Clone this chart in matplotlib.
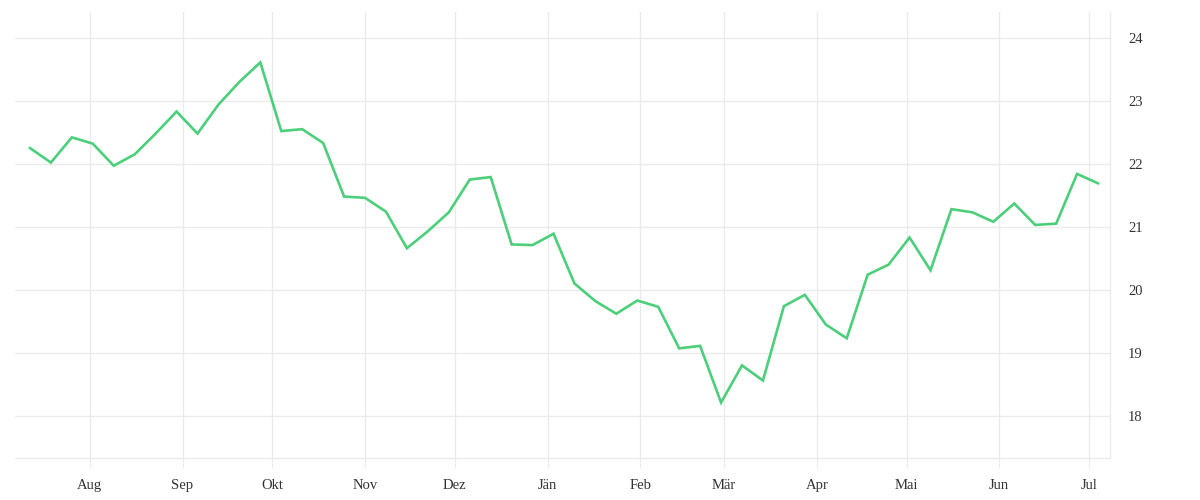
import datetime as dt
import matplotlib
matplotlib.use("Agg")
import matplotlib.pyplot as plt
import matplotlib.dates as mdates

# weekly values, starting 12 Jul 2022
start = dt.date(2022, 7, 12)
values = [22.25, 22.02, 22.42, 22.32, 21.97, 22.15, 22.48, 22.83, 22.48, 22.94,
          23.30, 23.61, 22.52, 22.55, 22.33, 21.48, 21.46, 21.24, 20.66, 20.93,
          21.23, 21.75, 21.79, 20.72, 20.71, 20.89, 20.10, 19.82, 19.62, 19.83,
          19.73, 19.07, 19.11, 18.21, 18.80, 18.56, 19.74, 19.92, 19.45, 19.23,
          20.24, 20.40, 20.83, 20.31, 21.28, 21.23, 21.08, 21.37, 21.03, 21.05,
          21.84, 21.69]
dates = [start + dt.timedelta(weeks=i) for i in range(len(values))]

month_ticks = [dt.date(2022, m, 1) for m in range(8, 13)] + \
              [dt.date(2023, m, 1) for m in range(1, 8)]
month_labels = ["Aug", "Sep", "Okt", "Nov", "Dez", "Jän", "Feb", "Mär",
                "Apr", "Mai", "Jun", "Jul"]
y_ticks = [18, 19, 20, 21, 22, 23, 24]

grid_col = "#ebebeb"
line_col = "#4ccf7a"

plt.rcParams['font.family'] = ['Liberation Serif', 'DejaVu Serif']

fig = plt.figure(figsize=(12, 5), dpi=100)
ax = fig.add_axes([0.0125, 0.084, 0.9125, 0.892])

ax.plot(dates, values, color=line_col, linewidth=1.9, solid_joinstyle="miter")

ax.set_xlim(dt.date(2022, 7, 7), dt.date(2023, 7, 8))
ax.set_ylim(17.33, 24.41)

ax.set_xticks(month_ticks)
ax.set_xticklabels(month_labels)
ax.set_yticks(y_ticks)

ax.yaxis.tick_right()
ax.grid(True, color=grid_col, linewidth=1)
ax.set_axisbelow(True)

for s in ("left", "top"):
    ax.spines[s].set_visible(False)
for s in ("right", "bottom"):
    ax.spines[s].set_color(grid_col)
    ax.spines[s].set_linewidth(1)

ax.tick_params(axis="x", length=7, color=grid_col, labelsize=10.5,
               labelcolor="#333333", pad=8)
ax.tick_params(axis="y", length=0, labelsize=10.5, labelcolor="#333333", pad=13)

fig.savefig("out.png", dpi=100)
